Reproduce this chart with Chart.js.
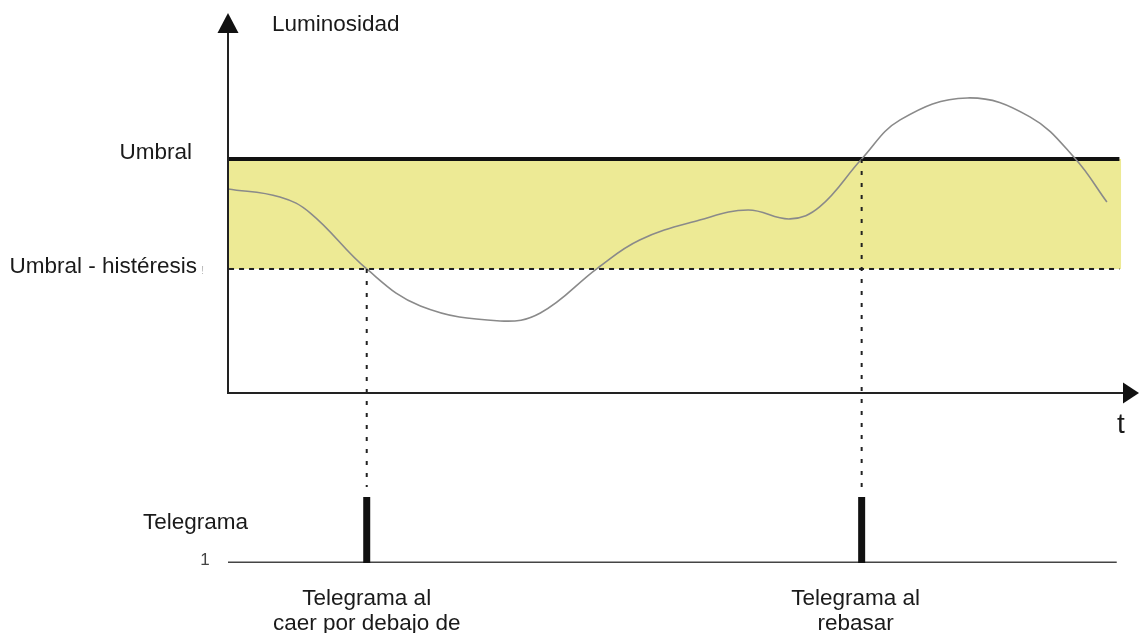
<!DOCTYPE html>
<html><head><meta charset="utf-8">
<script src="https://cdn.jsdelivr.net/npm/chart.js@4.4.0/dist/chart.umd.min.js"></script>
<style>html,body{margin:0;padding:0;background:#fff;overflow:hidden}#wrap{width:1139px;height:633px;position:relative}</style>
</head><body><div id="wrap"><canvas id="c" width="1139" height="633"></canvas></div>
<script>
// ---------- data ----------
const curveTime = [0, 5.8, 9.2, 15.5, 21.5, 30.4, 34.9, 41.3, 46.0, 52.7, 58.1, 62.8, 66.1, 70.8, 75.1, 82.6, 89.6, 94.6, 98.2];
const curveLuminosity = [87.2, 83.8, 76.9, 53.0, 37.2, 30.8, 34.2, 53.4, 65.4, 73.9, 78.2, 74.4, 79.5, 100.0, 116.7, 126.1, 118.0, 100.4, 81.6];
const thresholdLabels = ['Umbral', 'Umbral - histéresis'];
const thresholdValues = [100, 53];
const thresholdSpan = [-1.0, 99.6];
const bandSpan = [0, 99.8];
const telegramTimes = [15.5, 70.8];
const telegramValues = [1, 1];
const telegramSpan = [-0.1, 99.3];
const telegramCaptions = [['Telegrama al', 'caer por debajo de'], ['Telegrama al', 'rebasar']];
const axisLabels = { y: 'Luminosidad', x: 't', telegram: 'Telegrama', telegramLevel: '1' };

// ---------- layout (pixels) ----------
const W = 1139, H = 633;
const AX_LEFT = 228, AX_RIGHT = 1123, TOP = 13, BOTTOM = 563;
const LUM_ZERO_PX = 393, UMBRAL_PX = 159, PULSE_TOP_PX = 497;
const lumPerPx = thresholdValues[0] / (LUM_ZERO_PX - UMBRAL_PX);
const telPerPx = telegramValues[0] / (BOTTOM - PULSE_TOP_PX);
const FONT = '"Liberation Sans", Arial, Helvetica, sans-serif';
const INK = '#1a1a1a';

const pts = (xs, ys) => xs.map((x, i) => ({ x, y: ys[i] }));
const pulseData = [];
telegramTimes.forEach((t, i) => {
  if (i) pulseData.push({ x: t, y: null });
  pulseData.push({ x: t, y: 0 }, { x: t, y: telegramValues[i] });
});

const overlay = {
  id: 'overlay',
  afterDatasetsDraw(chart) {
    const ctx = chart.ctx, xs = chart.scales.x, yL = chart.scales.yL, yT = chart.scales.yT;
    const x0 = xs.getPixelForValue(0), y0 = yL.getPixelForValue(0);
    ctx.save();
    // drop lines
    ctx.strokeStyle = '#222'; ctx.lineWidth = 2; ctx.setLineDash([4, 8]);
    const levels = [thresholdValues[1], thresholdValues[0]];
    telegramTimes.forEach((t, i) => {
      const px = xs.getPixelForValue(t);
      ctx.beginPath();
      ctx.moveTo(px, yL.getPixelForValue(levels[i]));
      ctx.lineTo(px, yT.getPixelForValue(telegramValues[i] * 1.15));
      ctx.stroke();
    });
    ctx.setLineDash([]);
    // axes
    ctx.strokeStyle = '#222'; ctx.lineWidth = 2;
    ctx.beginPath();
    ctx.moveTo(x0, TOP + 20); ctx.lineTo(x0, y0); ctx.lineTo(xs.right, y0);
    ctx.stroke();
    ctx.fillStyle = '#111';
    ctx.beginPath();
    ctx.moveTo(x0, TOP); ctx.lineTo(x0 - 10.5, TOP + 20); ctx.lineTo(x0 + 10.5, TOP + 20); ctx.closePath(); ctx.fill();
    ctx.beginPath();
    ctx.moveTo(W, y0); ctx.lineTo(xs.right, y0 - 10.5); ctx.lineTo(xs.right, y0 + 10.5); ctx.closePath(); ctx.fill();
    ctx.restore();
  },
  afterDraw(chart) {
    const ctx = chart.ctx, xs = chart.scales.x, yL = chart.scales.yL, yT = chart.scales.yT;
    ctx.save();
    ctx.fillStyle = INK;
    ctx.textBaseline = 'middle';
    ctx.font = '22.5px ' + FONT;
    ctx.textAlign = 'left';
    ctx.fillText(axisLabels.y, 272, 25);
    ctx.textAlign = 'right';
    ctx.fillText(thresholdLabels[0], 192, yL.getPixelForValue(thresholdValues[0]) - 6);
    ctx.fillText(thresholdLabels[1], 197, yL.getPixelForValue(thresholdValues[1]) - 2);
    ctx.fillStyle = '#bbb'; ctx.font = '11px ' + FONT; ctx.textAlign = 'left';
    ctx.fillText('!', 201, yL.getPixelForValue(thresholdValues[1]) + 2);
    ctx.fillStyle = INK;
    ctx.font = '28px ' + FONT; ctx.textAlign = 'center';
    ctx.fillText(axisLabels.x, 1121, 425);
    ctx.font = '22.5px ' + FONT; ctx.textAlign = 'left';
    ctx.fillText(axisLabels.telegram, 143, 523);
    ctx.fillStyle = '#444'; ctx.font = '17px ' + FONT; ctx.textAlign = 'center';
    ctx.fillText(axisLabels.telegramLevel, 205, yT.getPixelForValue(0) - 3);
    ctx.fillStyle = INK; ctx.font = '22.5px ' + FONT;
    telegramCaptions.forEach((lines, i) => {
      const px = xs.getPixelForValue(telegramTimes[i]) - (i ? 6 : 0);
      lines.forEach((s, j) => ctx.fillText(s, px, 599 + j * 25));
    });
    ctx.restore();
  }
};

new Chart(document.getElementById('c'), {
  type: 'line',
  data: {
    datasets: [
      { label: 'band-low', yAxisID: 'yL', data: pts(bandSpan, [thresholdValues[1], thresholdValues[1]]), borderWidth: 0, pointRadius: 0, fill: false, order: 20 },
      { label: 'band-high', yAxisID: 'yL', data: pts(bandSpan, [thresholdValues[0], thresholdValues[0]]), borderWidth: 0, pointRadius: 0, fill: { target: 0 }, backgroundColor: '#EDEA95', order: 19 },
      { label: thresholdLabels[1], yAxisID: 'yL', data: pts(thresholdSpan, [thresholdValues[1], thresholdValues[1]]), borderColor: '#222', borderWidth: 2, borderDash: [5, 5], pointRadius: 0, order: 5 },
      { label: thresholdLabels[0], yAxisID: 'yL', data: pts(thresholdSpan, [thresholdValues[0], thresholdValues[0]]), borderColor: '#111', borderWidth: 4, pointRadius: 0, order: 4 },
      { label: axisLabels.y, yAxisID: 'yL', data: pts(curveTime, curveLuminosity), borderColor: '#8a8a8a', borderWidth: 1.6, pointRadius: 0, tension: 0.4, order: 1 },
      { label: 'telegram-base', yAxisID: 'yT', data: pts(telegramSpan, [0, 0]), borderColor: '#444', borderWidth: 3, pointRadius: 0, order: 3 },
      { label: axisLabels.telegram, yAxisID: 'yT', data: pulseData, borderColor: '#111', borderWidth: 7, borderCapStyle: 'butt', pointRadius: 0, spanGaps: false, order: 2 }
    ]
  },
  options: {
    responsive: false, animation: false, devicePixelRatio: 1,
    layout: { padding: { left: AX_LEFT, right: W - AX_RIGHT, top: TOP, bottom: H - BOTTOM } },
    plugins: { legend: { display: false }, tooltip: { enabled: false } },
    elements: { line: { tension: 0 } },
    scales: {
      x: { type: 'linear', display: false, min: 0, max: 100 },
      yL: { type: 'linear', display: false, min: -(BOTTOM - LUM_ZERO_PX) * lumPerPx, max: (LUM_ZERO_PX - TOP) * lumPerPx },
      yT: { type: 'linear', display: false, min: 0, max: (BOTTOM - TOP) * telPerPx }
    }
  },
  plugins: [overlay]
});
</script></body></html>
